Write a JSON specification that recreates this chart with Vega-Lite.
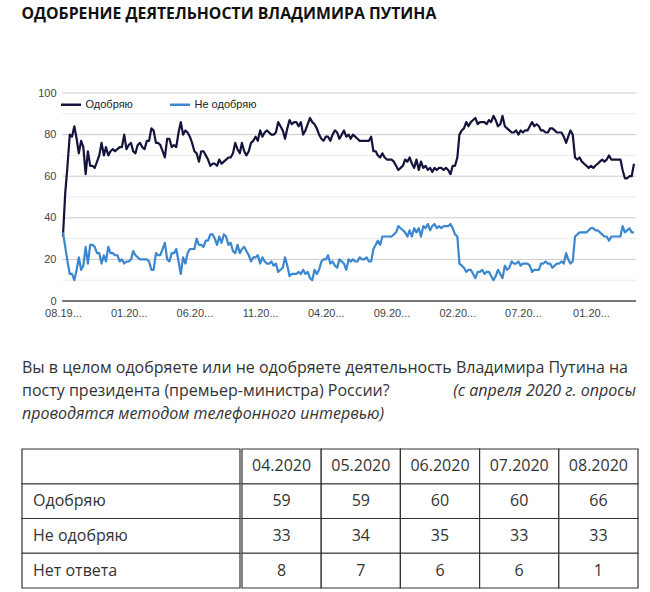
{
  "$schema": "https://vega.github.io/schema/vega-lite/v6.json",
  "background": "#ffffff",
  "padding": {"left": 21, "top": 6, "right": 0, "bottom": 0},
  "config": {"view": {"stroke": null}, "font": "Open Sans"},
  "title": {"text": "ОДОБРЕНИЕ ДЕЯТЕЛЬНОСТИ ВЛАДИМИРА ПУТИНА", "anchor": "start", "frame": "bounds", "font": "Open Sans", "fontSize": 15.8, "fontWeight": "bold", "color": "#111111", "offset": 64},
  "spacing": 22,
  "datasets": {
    "poll": [
      {"date":"1999-08","Одобряю":31,"Не одобряю":33},{"date":"1999-09","Одобряю":52,"Не одобряю":26},{"date":"1999-10","Одобряю":65,"Не одобряю":19},{"date":"1999-11","Одобряю":80,"Не одобряю":13},{"date":"1999-12","Одобряю":79,"Не одобряю":13},
      {"date":"2000-01","Одобряю":84,"Не одобряю":10},{"date":"2000-02","Одобряю":78,"Не одобряю":15},{"date":"2000-03","Одобряю":71,"Не одобряю":21},{"date":"2000-04","Одобряю":77,"Не одобряю":15},{"date":"2000-05","Одобряю":74,"Не одобряю":17},{"date":"2000-06","Одобряю":61,"Не одобряю":26},{"date":"2000-07","Одобряю":72,"Не одобряю":18},{"date":"2000-08","Одобряю":65,"Не одобряю":27},{"date":"2000-09","Одобряю":65,"Не одобряю":27},{"date":"2000-10","Одобряю":64,"Не одобряю":26},{"date":"2000-11","Одобряю":67,"Не одобряю":23},{"date":"2000-12","Одобряю":70,"Не одобряю":23},
      {"date":"2001-01","Одобряю":76,"Не одобряю":18},{"date":"2001-02","Одобряю":70,"Не одобряю":22},{"date":"2001-03","Одобряю":74,"Не одобряю":19},{"date":"2001-04","Одобряю":70,"Не одобряю":26},{"date":"2001-05","Одобряю":72,"Не одобряю":23},{"date":"2001-06","Одобряю":73,"Не одобряю":23},{"date":"2001-07","Одобряю":72,"Не одобряю":22},{"date":"2001-08","Одобряю":73,"Не одобряю":22},{"date":"2001-09","Одобряю":74,"Не одобряю":19},{"date":"2001-10","Одобряю":74,"Не одобряю":20},{"date":"2001-11","Одобряю":80,"Не одобряю":18},{"date":"2001-12","Одобряю":73,"Не одобряю":19},
      {"date":"2002-01","Одобряю":75,"Не одобряю":19},{"date":"2002-02","Одобряю":76,"Не одобряю":20},{"date":"2002-03","Одобряю":72,"Не одобряю":24},{"date":"2002-04","Одобряю":71,"Не одобряю":22},{"date":"2002-05","Одобряю":75,"Не одобряю":21},{"date":"2002-06","Одобряю":76,"Не одобряю":20},{"date":"2002-07","Одобряю":74,"Не одобряю":20},{"date":"2002-08","Одобряю":73,"Не одобряю":20},{"date":"2002-09","Одобряю":77,"Не одобряю":20},{"date":"2002-10","Одобряю":77,"Не одобряю":19},{"date":"2002-11","Одобряю":83,"Не одобряю":15},{"date":"2002-12","Одобряю":82,"Не одобряю":15},
      {"date":"2003-01","Одобряю":76,"Не одобряю":23},{"date":"2003-02","Одобряю":76,"Не одобряю":22},{"date":"2003-03","Одобряю":75,"Не одобряю":22},{"date":"2003-04","Одобряю":72,"Не одобряю":25},{"date":"2003-05","Одобряю":69,"Не одобряю":28},{"date":"2003-06","Одобряю":78,"Не одобряю":20},{"date":"2003-07","Одобряю":78,"Не одобряю":19},{"date":"2003-08","Одобряю":74,"Не одобряю":23},{"date":"2003-09","Одобряю":75,"Не одобряю":23},{"date":"2003-10","Одобряю":74,"Не одобряю":25},{"date":"2003-11","Одобряю":81,"Не одобряю":19},{"date":"2003-12","Одобряю":86,"Не одобряю":13},
      {"date":"2004-01","Одобряю":80,"Не одобряю":21},{"date":"2004-02","Одобряю":82,"Не одобряю":18},{"date":"2004-03","Одобряю":81,"Не одобряю":23},{"date":"2004-04","Одобряю":79,"Не одобряю":25},{"date":"2004-05","Одобряю":76,"Не одобряю":25},{"date":"2004-06","Одобряю":72,"Не одобряю":25},{"date":"2004-07","Одобряю":71,"Не одобряю":30},{"date":"2004-08","Одобряю":67,"Не одобряю":27},{"date":"2004-09","Одобряю":72,"Не одобряю":27},{"date":"2004-10","Одобряю":72,"Не одобряю":26},{"date":"2004-11","Одобряю":70,"Не одобряю":29},{"date":"2004-12","Одобряю":68,"Не одобряю":29},
      {"date":"2005-01","Одобряю":65,"Не одобряю":32},{"date":"2005-02","Одобряю":66,"Не одобряю":32},{"date":"2005-03","Одобряю":66,"Не одобряю":30},{"date":"2005-04","Одобряю":65,"Не одобряю":27},{"date":"2005-05","Одобряю":68,"Не одобряю":31},{"date":"2005-06","Одобряю":66,"Не одобряю":28},{"date":"2005-07","Одобряю":67,"Не одобряю":32},{"date":"2005-08","Одобряю":68,"Не одобряю":31},{"date":"2005-09","Одобряю":69,"Не одобряю":27},{"date":"2005-10","Одобряю":69,"Не одобряю":28},{"date":"2005-11","Одобряю":71,"Не одобряю":24},{"date":"2005-12","Одобряю":76,"Не одобряю":23},
      {"date":"2006-01","Одобряю":73,"Не одобряю":27},{"date":"2006-02","Одобряю":71,"Не одобряю":23},{"date":"2006-03","Одобряю":76,"Не одобряю":25},{"date":"2006-04","Одобряю":72,"Не одобряю":26},{"date":"2006-05","Одобряю":70,"Не одобряю":24},{"date":"2006-06","Одобряю":72,"Не одобряю":22},{"date":"2006-07","Одобряю":76,"Не одобряю":19},{"date":"2006-08","Одобряю":77,"Не одобряю":21},{"date":"2006-09","Одобряю":79,"Не одобряю":21},{"date":"2006-10","Одобряю":77,"Не одобряю":22},{"date":"2006-11","Одобряю":82,"Не одобряю":18},{"date":"2006-12","Одобряю":79,"Не одобряю":21},
      {"date":"2007-01","Одобряю":81,"Не одобряю":19},{"date":"2007-02","Одобряю":82,"Не одобряю":18},{"date":"2007-03","Одобряю":81,"Не одобряю":18},{"date":"2007-04","Одобряю":80,"Не одобряю":19},{"date":"2007-05","Одобряю":80,"Не одобряю":17},{"date":"2007-06","Одобряю":81,"Не одобряю":18},{"date":"2007-07","Одобряю":86,"Не одобряю":14},{"date":"2007-08","Одобряю":84,"Не одобряю":15},{"date":"2007-09","Одобряю":82,"Не одобряю":16},{"date":"2007-10","Одобряю":78,"Не одобряю":21},{"date":"2007-11","Одобряю":83,"Не одобряю":17},{"date":"2007-12","Одобряю":87,"Не одобряю":12},
      {"date":"2008-01","Одобряю":85,"Не одобряю":13},{"date":"2008-02","Одобряю":86,"Не одобряю":13},{"date":"2008-03","Одобряю":86,"Не одобряю":13},{"date":"2008-04","Одобряю":84,"Не одобряю":14},{"date":"2008-05","Одобряю":86,"Не одобряю":13},{"date":"2008-06","Одобряю":80,"Не одобряю":15},{"date":"2008-07","Одобряю":82,"Не одобряю":13},{"date":"2008-08","Одобряю":85,"Не одобряю":14},{"date":"2008-09","Одобряю":88,"Не одобряю":11},{"date":"2008-10","Одобряю":86,"Не одобряю":10},{"date":"2008-11","Одобряю":85,"Не одобряю":15},{"date":"2008-12","Одобряю":83,"Не одобряю":13},
      {"date":"2009-01","Одобряю":80,"Не одобряю":15},{"date":"2009-02","Одобряю":78,"Не одобряю":19},{"date":"2009-03","Одобряю":77,"Не одобряю":20},{"date":"2009-04","Одобряю":79,"Не одобряю":20},{"date":"2009-05","Одобряю":79,"Не одобряю":22},{"date":"2009-06","Одобряю":77,"Не одобряю":18},{"date":"2009-07","Одобряю":80,"Не одобряю":19},{"date":"2009-08","Одобряю":82,"Не одобряю":17},{"date":"2009-09","Одобряю":81,"Не одобряю":16},{"date":"2009-10","Одобряю":78,"Не одобряю":20},{"date":"2009-11","Одобряю":80,"Не одобряю":19},{"date":"2009-12","Одобряю":82,"Не одобряю":18},
      {"date":"2010-01","Одобряю":79,"Не одобряю":15},{"date":"2010-02","Одобряю":80,"Не одобряю":20},{"date":"2010-03","Одобряю":78,"Не одобряю":19},{"date":"2010-04","Одобряю":80,"Не одобряю":20},{"date":"2010-05","Одобряю":79,"Не одобряю":19},{"date":"2010-06","Одобряю":78,"Не одобряю":19},{"date":"2010-07","Одобряю":77,"Не одобряю":21},{"date":"2010-08","Одобряю":77,"Не одобряю":20},{"date":"2010-09","Одобряю":77,"Не одобряю":20},{"date":"2010-10","Одобряю":77,"Не одобряю":21},{"date":"2010-11","Одобряю":77,"Не одобряю":19},{"date":"2010-12","Одобряю":79,"Не одобряю":19},
      {"date":"2011-01","Одобряю":72,"Не одобряю":25},{"date":"2011-02","Одобряю":72,"Не одобряю":27},{"date":"2011-03","Одобряю":70,"Не одобряю":29},{"date":"2011-04","Одобряю":69,"Не одобряю":27},{"date":"2011-05","Одобряю":71,"Не одобряю":31},{"date":"2011-06","Одобряю":69,"Не одобряю":31},{"date":"2011-07","Одобряю":68,"Не одобряю":31},{"date":"2011-08","Одобряю":68,"Не одобряю":31},{"date":"2011-09","Одобряю":68,"Не одобряю":31},{"date":"2011-10","Одобряю":67,"Не одобряю":32},{"date":"2011-11","Одобряю":65,"Не одобряю":33},{"date":"2011-12","Одобряю":63,"Не одобряю":36},
      {"date":"2012-01","Одобряю":64,"Не одобряю":35},{"date":"2012-02","Одобряю":65,"Не одобряю":34},{"date":"2012-03","Одобряю":68,"Не одобряю":33},{"date":"2012-04","Одобряю":67,"Не одобряю":31},{"date":"2012-05","Одобряю":69,"Не одобряю":34},{"date":"2012-06","Одобряю":66,"Не одобряю":31},{"date":"2012-07","Одобряю":64,"Не одобряю":35},{"date":"2012-08","Одобряю":68,"Не одобряю":33},{"date":"2012-09","Одобряю":63,"Не одобряю":35},{"date":"2012-10","Одобряю":67,"Не одобряю":31},{"date":"2012-11","Одобряю":64,"Не одобряю":36},{"date":"2012-12","Одобряю":65,"Не одобряю":35},
      {"date":"2013-01","Одобряю":63,"Не одобряю":37},{"date":"2013-02","Одобряю":64,"Не одобряю":34},{"date":"2013-03","Одобряю":62,"Не одобряю":36},{"date":"2013-04","Одобряю":64,"Не одобряю":37},{"date":"2013-05","Одобряю":63,"Не одобряю":35},{"date":"2013-06","Одобряю":64,"Не одобряю":36},{"date":"2013-07","Одобряю":64,"Не одобряю":35},{"date":"2013-08","Одобряю":63,"Не одобряю":36},{"date":"2013-09","Одобряю":64,"Не одобряю":36},{"date":"2013-10","Одобряю":63,"Не одобряю":36},{"date":"2013-11","Одобряю":61,"Не одобряю":37},{"date":"2013-12","Одобряю":65,"Не одобряю":35},
      {"date":"2014-01","Одобряю":65,"Не одобряю":32},{"date":"2014-02","Одобряю":69,"Не одобряю":31},{"date":"2014-03","Одобряю":80,"Не одобряю":18},{"date":"2014-04","Одобряю":82,"Не одобряю":17},{"date":"2014-05","Одобряю":83,"Не одобряю":16},{"date":"2014-06","Одобряю":86,"Не одобряю":14},{"date":"2014-07","Одобряю":84,"Не одобряю":15},{"date":"2014-08","Одобряю":86,"Не одобряю":15},{"date":"2014-09","Одобряю":87,"Не одобряю":13},{"date":"2014-10","Одобряю":88,"Не одобряю":11},{"date":"2014-11","Одобряю":85,"Не одобряю":14},{"date":"2014-12","Одобряю":86,"Не одобряю":14},
      {"date":"2015-01","Одобряю":86,"Не одобряю":15},{"date":"2015-02","Одобряю":86,"Не одобряю":13},{"date":"2015-03","Одобряю":85,"Не одобряю":14},{"date":"2015-04","Одобряю":87,"Не одобряю":14},{"date":"2015-05","Одобряю":86,"Не одобряю":12},{"date":"2015-06","Одобряю":89,"Не одобряю":10},{"date":"2015-07","Одобряю":87,"Не одобряю":12},{"date":"2015-08","Одобряю":84,"Не одобряю":15},{"date":"2015-09","Одобряю":85,"Не одобряю":13},{"date":"2015-10","Одобряю":89,"Не одобряю":11},{"date":"2015-11","Одобряю":84,"Не одобряю":17},{"date":"2015-12","Одобряю":83,"Не одобряю":15},
      {"date":"2016-01","Одобряю":82,"Не одобряю":16},{"date":"2016-02","Одобряю":81,"Не одобряю":19},{"date":"2016-03","Одобряю":81,"Не одобряю":18},{"date":"2016-04","Одобряю":82,"Не одобряю":18},{"date":"2016-05","Одобряю":80,"Не одобряю":19},{"date":"2016-06","Одобряю":82,"Не одобряю":17},{"date":"2016-07","Одобряю":81,"Не одобряю":18},{"date":"2016-08","Одобряю":82,"Не одобряю":18},{"date":"2016-09","Одобряю":82,"Не одобряю":18},{"date":"2016-10","Одобряю":84,"Не одобряю":17},{"date":"2016-11","Одобряю":86,"Не одобряю":14},{"date":"2016-12","Одобряю":84,"Не одобряю":15},
      {"date":"2017-01","Одобряю":85,"Не одобряю":15},{"date":"2017-02","Одобряю":84,"Не одобряю":15},{"date":"2017-03","Одобряю":82,"Не одобряю":18},{"date":"2017-04","Одобряю":82,"Не одобряю":18},{"date":"2017-05","Одобряю":81,"Не одобряю":19},{"date":"2017-06","Одобряю":81,"Не одобряю":18},{"date":"2017-07","Одобряю":83,"Не одобряю":18},{"date":"2017-08","Одобряю":83,"Не одобряю":16},{"date":"2017-09","Одобряю":82,"Не одобряю":17},{"date":"2017-10","Одобряю":81,"Не одобряю":18},{"date":"2017-11","Одобряю":81,"Не одобряю":18},{"date":"2017-12","Одобряю":81,"Не одобряю":19},
      {"date":"2018-01","Одобряю":79,"Не одобряю":18},{"date":"2018-02","Одобряю":76,"Не одобряю":23},{"date":"2018-03","Одобряю":79,"Не одобряю":20},{"date":"2018-04","Одобряю":82,"Не одобряю":18},{"date":"2018-05","Одобряю":80,"Не одобряю":19},{"date":"2018-06","Одобряю":69,"Не одобряю":31},{"date":"2018-07","Одобряю":68,"Не одобряю":32},{"date":"2018-08","Одобряю":69,"Не одобряю":33},{"date":"2018-09","Одобряю":67,"Не одобряю":33},{"date":"2018-10","Одобряю":66,"Не одобряю":33},{"date":"2018-11","Одобряю":65,"Не одобряю":33},{"date":"2018-12","Одобряю":64,"Не одобряю":34},
      {"date":"2019-01","Одобряю":65,"Не одобряю":35},{"date":"2019-02","Одобряю":64,"Не одобряю":35},{"date":"2019-03","Одобряю":65,"Не одобряю":34},{"date":"2019-04","Одобряю":66,"Не одобряю":34},{"date":"2019-05","Одобряю":67,"Не одобряю":33},{"date":"2019-06","Одобряю":68,"Не одобряю":32},{"date":"2019-07","Одобряю":67,"Не одобряю":31},{"date":"2019-08","Одобряю":68,"Не одобряю":31},{"date":"2019-09","Одобряю":70,"Не одобряю":29},{"date":"2019-10","Одобряю":68,"Не одобряю":31},{"date":"2019-11","Одобряю":68,"Не одобряю":31},{"date":"2019-12","Одобряю":68,"Не одобряю":31},
      {"date":"2020-01","Одобряю":68,"Не одобряю":31},{"date":"2020-02","Одобряю":68,"Не одобряю":31},{"date":"2020-03","Одобряю":63,"Не одобряю":36},{"date":"2020-04","Одобряю":59,"Не одобряю":33},{"date":"2020-05","Одобряю":59,"Не одобряю":34},{"date":"2020-06","Одобряю":60,"Не одобряю":35},{"date":"2020-07","Одобряю":60,"Не одобряю":33},{"date":"2020-08","Одобряю":66,"Не одобряю":33}
    ],
    "grid": [{"level":0},{"level":10},{"level":20},{"level":30},{"level":40},{"level":50},{"level":60},{"level":70},{"level":80},{"level":90},{"level":100}],
    "table": [
      {"row":"Одобряю","col":"04.2020","value":59},{"row":"Одобряю","col":"05.2020","value":59},{"row":"Одобряю","col":"06.2020","value":60},{"row":"Одобряю","col":"07.2020","value":60},{"row":"Одобряю","col":"08.2020","value":66},
      {"row":"Не одобряю","col":"04.2020","value":33},{"row":"Не одобряю","col":"05.2020","value":34},{"row":"Не одобряю","col":"06.2020","value":35},{"row":"Не одобряю","col":"07.2020","value":33},{"row":"Не одобряю","col":"08.2020","value":33},
      {"row":"Нет ответа","col":"04.2020","value":8},{"row":"Нет ответа","col":"05.2020","value":7},{"row":"Нет ответа","col":"06.2020","value":6},{"row":"Нет ответа","col":"07.2020","value":6},{"row":"Нет ответа","col":"08.2020","value":1}
    ]
  },
  "vconcat": [
    {
      "width": 614,
      "height": 208,
      "layer": [
        {
          "data": {"name": "grid"},
          "transform": [{"filter": "datum.level > 0 && datum.level % 20 != 0"}],
          "mark": {"type": "rule", "color": "#ebebeb", "strokeWidth": 1},
          "encoding": {
            "y": {"field": "level", "type": "quantitative", "scale": {"domain": [0, 100], "nice": false},
              "axis": {"values": [0, 20, 40, 60, 80, 100], "offset": -39, "domain": false, "ticks": false, "grid": false, "title": null, "labelFont": "Liberation Sans", "labelFontSize": 11, "labelColor": "#444444", "labelPadding": 5}},
            "x": {"datum": {"year": 1999, "month": 7, "date": 22, "utc": true}, "type": "temporal",
              "scale": {"domain": [{"year": 1998, "month": 1, "date": 28, "utc": true}, {"year": 2020, "month": 8, "date": 28, "utc": true}], "nice": false},
              "axis": {
                "values": [
                  {"year": 1999, "month": 8, "date": 1, "utc": true}, {"year": 2002, "month": 1, "date": 1, "utc": true}, {"year": 2004, "month": 6, "date": 1, "utc": true},
                  {"year": 2006, "month": 11, "date": 1, "utc": true}, {"year": 2009, "month": 4, "date": 1, "utc": true}, {"year": 2011, "month": 9, "date": 1, "utc": true},
                  {"year": 2014, "month": 2, "date": 1, "utc": true}, {"year": 2016, "month": 7, "date": 1, "utc": true}, {"year": 2019, "month": 1, "date": 1, "utc": true}
                ],
                "labelExpr": "slice(utcFormat(datum.value, '%m.%Y'), 0, 5) + '...'",
                "domain": false, "ticks": false, "grid": false, "title": null,
                "labelFont": "Liberation Sans", "labelFontSize": 11, "labelColor": "#444444",
                "labelPadding": 6, "labelOverlap": false, "labelFlush": false
              }},
            "x2": {"datum": {"year": 2020, "month": 8, "date": 28, "utc": true}}
          }
        },
        {
          "data": {"name": "grid"},
          "transform": [{"filter": "datum.level > 0 && datum.level % 20 == 0"}],
          "mark": {"type": "rule", "color": "#cccccc", "strokeWidth": 1},
          "encoding": {
            "y": {"field": "level", "type": "quantitative",
              "axis": {"values": [0, 20, 40, 60, 80, 100], "offset": -39, "domain": false, "ticks": false, "grid": false, "title": null, "labelFont": "Liberation Sans", "labelFontSize": 11, "labelColor": "#444444", "labelPadding": 5}},
            "x": {"datum": {"year": 1999, "month": 7, "date": 22, "utc": true}, "type": "temporal",
              "axis": {
                "values": [
                  {"year": 1999, "month": 8, "date": 1, "utc": true}, {"year": 2002, "month": 1, "date": 1, "utc": true}, {"year": 2004, "month": 6, "date": 1, "utc": true},
                  {"year": 2006, "month": 11, "date": 1, "utc": true}, {"year": 2009, "month": 4, "date": 1, "utc": true}, {"year": 2011, "month": 9, "date": 1, "utc": true},
                  {"year": 2014, "month": 2, "date": 1, "utc": true}, {"year": 2016, "month": 7, "date": 1, "utc": true}, {"year": 2019, "month": 1, "date": 1, "utc": true}
                ],
                "labelExpr": "slice(utcFormat(datum.value, '%m.%Y'), 0, 5) + '...'",
                "domain": false, "ticks": false, "grid": false, "title": null,
                "labelFont": "Liberation Sans", "labelFontSize": 11, "labelColor": "#444444",
                "labelPadding": 6, "labelOverlap": false, "labelFlush": false
              }},
            "x2": {"datum": {"year": 2020, "month": 8, "date": 28, "utc": true}}
          }
        },
        {
          "data": {"name": "grid"},
          "transform": [{"filter": "datum.level == 0"}],
          "mark": {"type": "rule", "color": "#777777", "strokeWidth": 2},
          "encoding": {
            "y": {"field": "level", "type": "quantitative",
              "axis": {"values": [0, 20, 40, 60, 80, 100], "offset": -39, "domain": false, "ticks": false, "grid": false, "title": null, "labelFont": "Liberation Sans", "labelFontSize": 11, "labelColor": "#444444", "labelPadding": 5}},
            "x": {"datum": {"year": 1999, "month": 7, "date": 22, "utc": true}, "type": "temporal",
              "axis": {
                "values": [
                  {"year": 1999, "month": 8, "date": 1, "utc": true}, {"year": 2002, "month": 1, "date": 1, "utc": true}, {"year": 2004, "month": 6, "date": 1, "utc": true},
                  {"year": 2006, "month": 11, "date": 1, "utc": true}, {"year": 2009, "month": 4, "date": 1, "utc": true}, {"year": 2011, "month": 9, "date": 1, "utc": true},
                  {"year": 2014, "month": 2, "date": 1, "utc": true}, {"year": 2016, "month": 7, "date": 1, "utc": true}, {"year": 2019, "month": 1, "date": 1, "utc": true}
                ],
                "labelExpr": "slice(utcFormat(datum.value, '%m.%Y'), 0, 5) + '...'",
                "domain": false, "ticks": false, "grid": false, "title": null,
                "labelFont": "Liberation Sans", "labelFontSize": 11, "labelColor": "#444444",
                "labelPadding": 6, "labelOverlap": false, "labelFlush": false
              }},
            "x2": {"datum": {"year": 2020, "month": 8, "date": 28, "utc": true}}
          }
        },
        {
          "data": {"name": "poll"},
          "transform": [{"fold": ["Одобряю", "Не одобряю"], "as": ["series", "value"]}],
          "mark": {"type": "line", "strokeWidth": 2.2, "strokeJoin": "round"},
          "encoding": {
            "x": {
              "field": "date", "type": "temporal",
              "axis": {
                "values": [
                  {"year": 1999, "month": 8, "date": 1, "utc": true}, {"year": 2002, "month": 1, "date": 1, "utc": true}, {"year": 2004, "month": 6, "date": 1, "utc": true},
                  {"year": 2006, "month": 11, "date": 1, "utc": true}, {"year": 2009, "month": 4, "date": 1, "utc": true}, {"year": 2011, "month": 9, "date": 1, "utc": true},
                  {"year": 2014, "month": 2, "date": 1, "utc": true}, {"year": 2016, "month": 7, "date": 1, "utc": true}, {"year": 2019, "month": 1, "date": 1, "utc": true}
                ],
                "labelExpr": "slice(utcFormat(datum.value, '%m.%Y'), 0, 5) + '...'",
                "domain": false, "ticks": false, "grid": false, "title": null,
                "labelFont": "Liberation Sans", "labelFontSize": 11, "labelColor": "#444444",
                "labelPadding": 6, "labelOverlap": false, "labelFlush": false
              }
            },
            "y": {
              "field": "value", "type": "quantitative",
              "axis": {"values": [0, 20, 40, 60, 80, 100], "offset": -39, "domain": false, "ticks": false, "grid": false, "title": null, "labelFont": "Liberation Sans", "labelFontSize": 11, "labelColor": "#444444", "labelPadding": 5}
            },
            "color": {
              "field": "series", "type": "nominal",
              "scale": {"domain": ["Одобряю", "Не одобряю"], "range": ["#13133b", "#3a87d0"]},
              "legend": {
                "orient": "none", "legendX": 37.5, "legendY": 0, "direction": "horizontal", "title": null,
                "symbolType": "stroke", "symbolSize": 400, "symbolStrokeWidth": 2.5,
                "labelFont": "Liberation Sans", "labelFontSize": 11, "labelColor": "#222222",
                "labelOffset": 3, "columnPadding": 31, "padding": 0
              }
            }
          }
        }
      ]
    },
    {
      "width": 614,
      "height": 86,
      "layer": [
        {
          "data": {"values": [
            {"line": 1, "text": "Вы в целом одобряете или не одобряете деятельность Владимира Путина на"},
            {"line": 2, "text": "посту президента (премьер-министра) России?"}
          ]},
          "mark": {"type": "text", "align": "left", "baseline": "middle", "font": "Open Sans", "fontSize": 16, "color": "#333333"},
          "encoding": {
            "x": {"datum": 0, "type": "quantitative", "scale": {"domain": [0, 1], "nice": false, "zero": false}, "axis": null},
            "y": {"field": "line", "type": "quantitative", "scale": {"domain": [-0.217, 3.522], "reverse": true, "nice": false, "zero": false}, "axis": null},
            "text": {"field": "text"}
          }
        },
        {
          "data": {"values": [{"line": 2, "text": "(с апреля 2020 г. опросы"}]},
          "mark": {"type": "text", "align": "right", "baseline": "middle", "font": "Open Sans", "fontSize": 16, "fontStyle": "italic", "color": "#333333"},
          "encoding": {
            "x": {"datum": 1, "type": "quantitative", "axis": null},
            "y": {"field": "line", "type": "quantitative", "axis": null},
            "text": {"field": "text"}
          }
        },
        {
          "data": {"values": [{"line": 3, "text": "проводятся методом телефонного интервью)"}]},
          "mark": {"type": "text", "align": "left", "baseline": "middle", "font": "Open Sans", "fontSize": 16, "fontStyle": "italic", "color": "#333333"},
          "encoding": {
            "x": {"datum": 0, "type": "quantitative", "axis": null},
            "y": {"field": "line", "type": "quantitative", "axis": null},
            "text": {"field": "text"}
          }
        }
      ]
    },
    {
      "spacing": 0,
      "hconcat": [
        {
          "width": 218,
          "height": 139,
          "data": {"name": "table"},
          "layer": [
            {
              "transform": [{"aggregate": [{"op": "count", "as": "n"}], "groupby": ["row"]}],
              "mark": {"type": "rect", "fill": "#ffffff", "stroke": "#333333", "strokeWidth": 1.2},
              "encoding": {
                "y": {"field": "row", "type": "nominal", "scale": {"domain": ["header", "Одобряю", "Не одобряю", "Нет ответа"], "paddingInner": 0, "paddingOuter": 0}, "axis": null}
              }
            },
            {
              "transform": [{"aggregate": [{"op": "count", "as": "n"}]}],
              "mark": {"type": "rect", "fill": "#ffffff", "stroke": "#333333", "strokeWidth": 1.2},
              "encoding": {
                "y": {"datum": "header", "type": "nominal", "axis": null}
              }
            },
            {
              "transform": [{"aggregate": [{"op": "count", "as": "n"}], "groupby": ["row"]}],
              "mark": {"type": "text", "align": "left", "baseline": "middle", "dx": 11, "font": "Open Sans", "fontSize": 16, "color": "#333333"},
              "encoding": {
                "x": {"datum": 0, "type": "quantitative", "scale": {"domain": [0, 1]}, "axis": null},
                "y": {"field": "row", "type": "nominal", "axis": null},
                "text": {"field": "row"}
              }
            }
          ]
        },
        {
          "width": 396,
          "height": 139,
          "data": {"name": "table"},
          "layer": [
            {
              "mark": {"type": "rect", "fill": "#ffffff", "stroke": "#333333", "strokeWidth": 1.2},
              "encoding": {
                "x": {"field": "col", "type": "nominal", "scale": {"domain": ["04.2020", "05.2020", "06.2020", "07.2020", "08.2020"], "paddingInner": 0, "paddingOuter": 0}, "axis": null},
                "y": {"field": "row", "type": "nominal", "scale": {"domain": ["header", "Одобряю", "Не одобряю", "Нет ответа"], "paddingInner": 0, "paddingOuter": 0}, "axis": null}
              }
            },
            {
              "transform": [{"aggregate": [{"op": "count", "as": "n"}], "groupby": ["col"]}],
              "mark": {"type": "rect", "fill": "#ffffff", "stroke": "#333333", "strokeWidth": 1.2},
              "encoding": {
                "x": {"field": "col", "type": "nominal", "axis": null},
                "y": {"datum": "header", "type": "nominal", "axis": null}
              }
            },
            {
              "transform": [{"aggregate": [{"op": "count", "as": "n"}], "groupby": ["col"]}],
              "mark": {"type": "text", "align": "center", "baseline": "middle", "font": "Open Sans", "fontSize": 16, "color": "#333333"},
              "encoding": {
                "x": {"field": "col", "type": "nominal", "axis": null},
                "y": {"datum": "header", "type": "nominal", "axis": null},
                "text": {"field": "col"}
              }
            },
            {
              "mark": {"type": "text", "align": "center", "baseline": "middle", "font": "Open Sans", "fontSize": 16, "color": "#333333"},
              "encoding": {
                "x": {"field": "col", "type": "nominal", "axis": null},
                "y": {"field": "row", "type": "nominal", "axis": null},
                "text": {"field": "value"}
              }
            }
          ]
        }
      ]
    }
  ]
}
